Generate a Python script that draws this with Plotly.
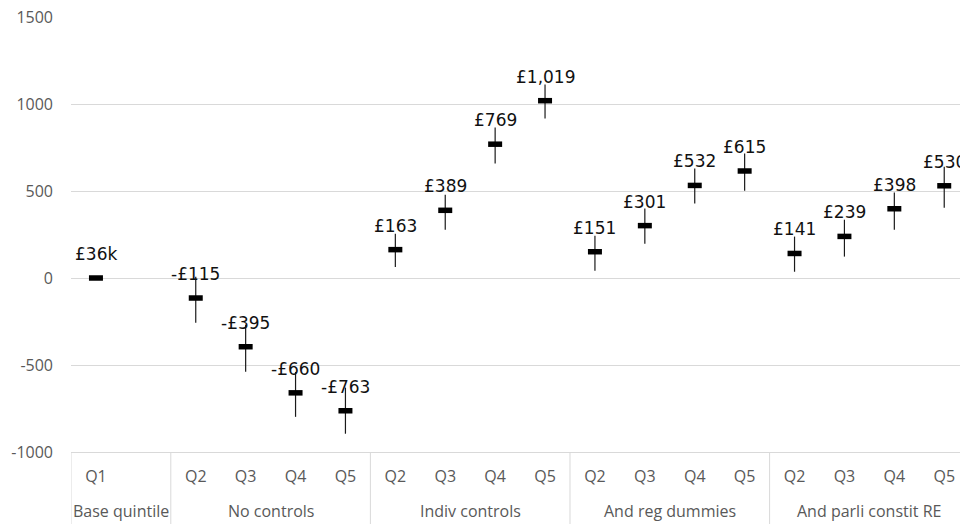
import plotly.graph_objects as go

# Regression estimates of the income gap by quintile, under successive controls
groups = (["Base quintile"] * 2
          + ["No controls"] * 4
          + ["Indiv controls"] * 4
          + ["And reg dummies"] * 4
          + ["And parli constit RE"] * 4)
quintiles = ["Q1", ""] + ["Q2", "Q3", "Q4", "Q5"] * 4
values = [0, None,
          -115, -395, -660, -763,
          163, 389, 769, 1019,
          151, 301, 532, 615,
          141, 239, 398, 530]
labels = ["£36k", "",
          "-£115", "-£395", "-£660", "-£763",
          "£163", "£389", "£769", "£1,019",
          "£151", "£301", "£532", "£615",
          "£141", "£239", "£398", "£530"]
err_plus = [0, 0,
            122, 126, 120, 133,
            92, 90, 96, 93,
            92, 98, 97, 100,
            97, 96, 93, 110]
err_minus = [0, 0,
             142, 144, 138, 132,
             100, 111, 111, 102,
             109, 104, 104, 113,
             105, 116, 120, 126]
y_ticks = [-1000, -500, 0, 500, 1000, 1500]
y_tick_text = ["-1000", "-500", "0", "500", "1000", "1500"]

AXIS_GREY = "#595959"
GRID_GREY = "#d9d9d9"
AXIS_FONT = dict(family="Open Sans", size=16, color=AXIS_GREY)

positions = list(range(len(quintiles)))

fig = go.Figure(
    go.Scatter(
        x=positions,
        y=values,
        mode="markers",
        marker=dict(symbol="line-ew", size=10, color="black",
                    line=dict(width=5.5, color="black")),
        error_y=dict(type="data", symmetric=False, array=err_plus,
                     arrayminus=err_minus, color="#1a1a1a",
                     thickness=1.2, width=0),
        hoverinfo="skip",
    )
)

# Value labels above each estimate
for i, (v, t) in enumerate(zip(values, labels)):
    if v is None or not t:
        continue
    fig.add_annotation(x=positions[i], y=v, text=t, showarrow=False, yshift=24,
                       font=dict(family="DejaVu Sans", size=17, color="#111111"))

# Group names under the quintile labels, with dividers between groups
runs = []
for i, g in enumerate(groups):
    if runs and runs[-1][0] == g:
        runs[-1][2] = i
    else:
        runs.append([g, i, i])

for name, first, last in runs:
    fig.add_annotation(x=(positions[first] + positions[last]) / 2, y=0,
                       xref="x", yref="paper", yshift=-59, yanchor="middle",
                       text=name, showarrow=False, font=AXIS_FONT)
    fig.add_shape(type="line", xref="x", yref="paper",
                  x0=positions[first] - 0.5, x1=positions[first] - 0.5,
                  y0=0, y1=-0.2, line=dict(color=GRID_GREY, width=1))
fig.add_shape(type="line", xref="x", yref="paper",
              x0=positions[-1] + 0.5, x1=positions[-1] + 0.5,
              y0=0, y1=-0.2, line=dict(color=GRID_GREY, width=1))

fig.update_layout(
    width=960, height=524,
    margin=dict(l=71, r=0, t=17, b=72, pad=0),
    plot_bgcolor="white", paper_bgcolor="white",
    showlegend=False,
    xaxis=dict(
        range=[-0.5, 17.316],
        tickvals=positions, ticktext=quintiles,
        showgrid=False, zeroline=False,
        showline=True, linecolor=GRID_GREY, linewidth=1,
        ticks="", ticklabelstandoff=10,
        tickfont=AXIS_FONT,
    ),
    yaxis=dict(
        range=[-1000, 1500],
        tickvals=y_ticks, ticktext=y_tick_text,
        showgrid=True, gridcolor=GRID_GREY, gridwidth=1,
        zeroline=False, showline=False, ticks="",
        ticklabelstandoff=17,
        tickfont=AXIS_FONT,
    ),
)

fig.write_html("out.html")
